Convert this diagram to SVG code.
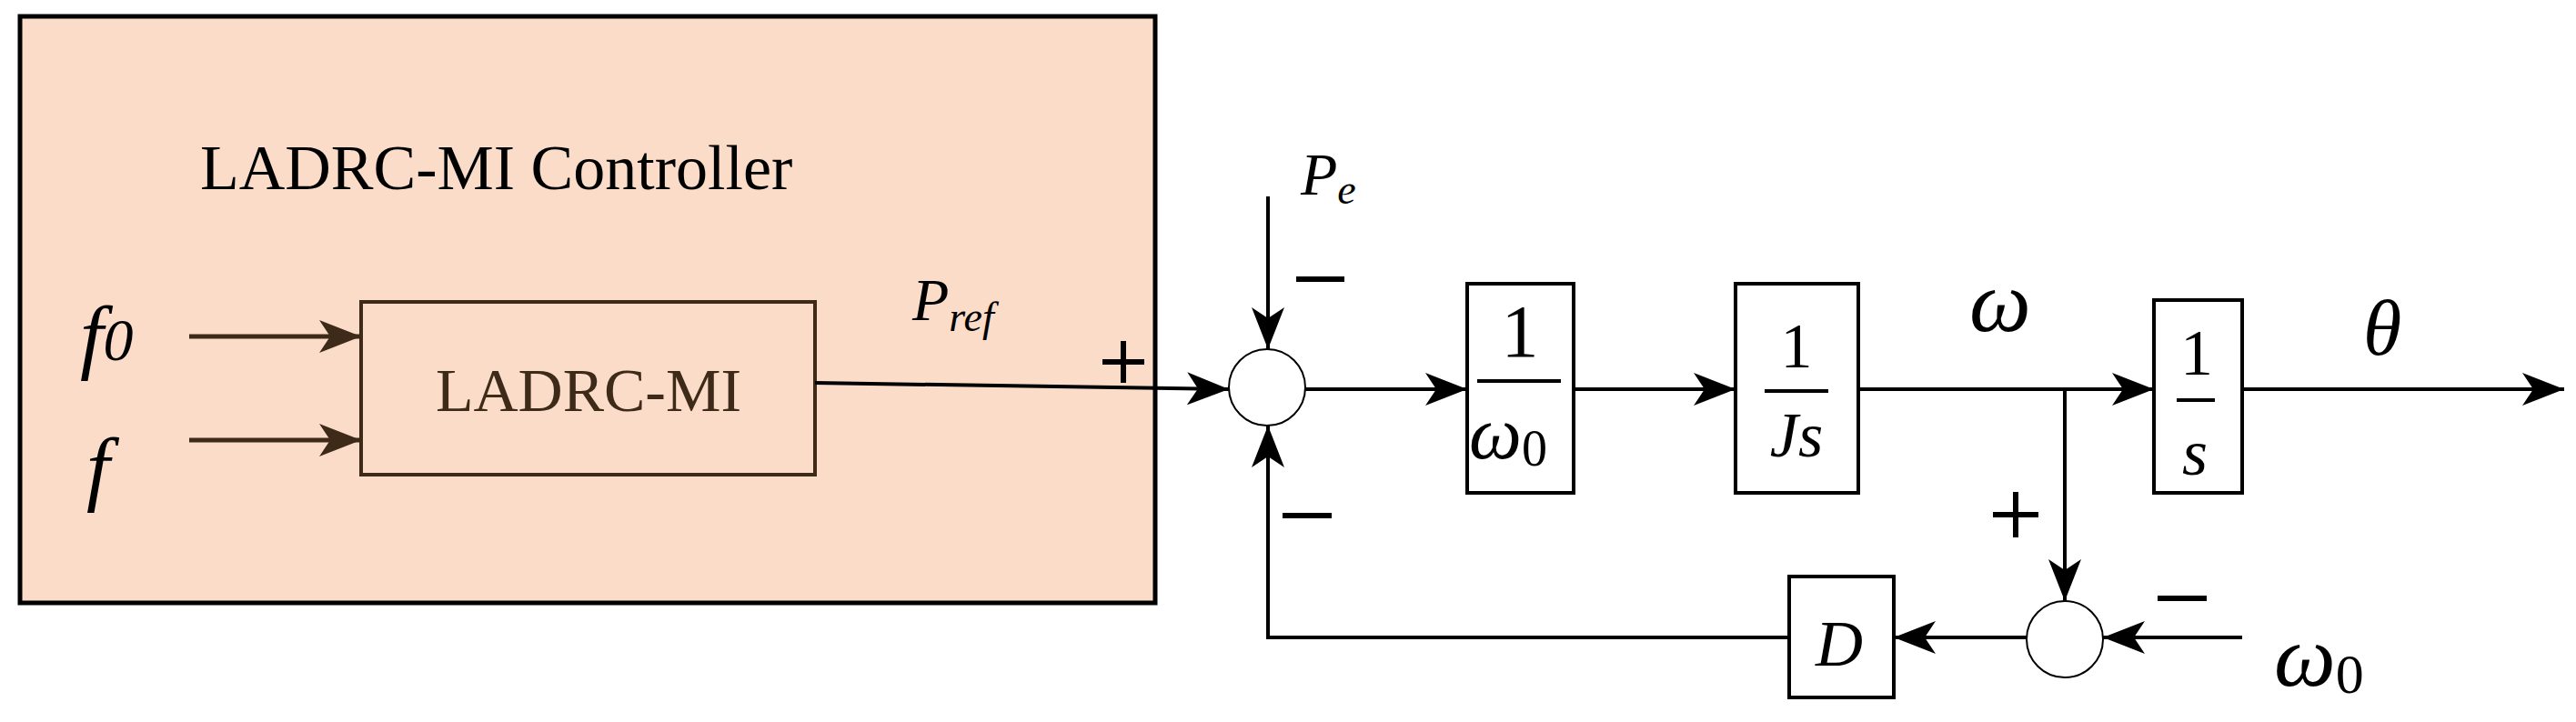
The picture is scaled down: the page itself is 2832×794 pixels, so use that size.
<svg xmlns="http://www.w3.org/2000/svg" width="2832" height="794" viewBox="0 0 2832 794">
<style>
.ln{stroke:#000;stroke-width:4;fill:none}
.br{stroke:#3d2a18;stroke-width:5;fill:none}
.bx{stroke:#000;stroke-width:4;fill:#fff}
.sum{stroke:#000;stroke-width:2;fill:#fff}
.m{font-family:"Liberation Serif",serif;font-style:italic;fill:#000}
.t{font-family:"Liberation Serif",serif;fill:#000}
</style>
<defs>
<marker id="a" viewBox="0 0 46 36" refX="46" refY="18" markerWidth="46" markerHeight="36" markerUnits="userSpaceOnUse" orient="auto"><path d="M0,0 L46,18 L0,36 L12,18 Z" fill="#000"/></marker>
<marker id="ab" viewBox="0 0 46 36" refX="46" refY="18" markerWidth="46" markerHeight="36" markerUnits="userSpaceOnUse" orient="auto"><path d="M0,0 L46,18 L0,36 L12,18 Z" fill="#3d2a18"/></marker>
</defs>
<rect width="2832" height="794" fill="#fff"/>
<g id="controller">
<rect x="22" y="18" width="1248" height="645" fill="#fadcc8" stroke="#000" stroke-width="5"/>
<text class="t" x="220" y="208" font-size="70">LADRC-MI Controller</text>
</g>
<g id="ladrc">
<rect x="397" y="332" width="499" height="190" fill="none" stroke="#3d2a18" stroke-width="4"/>
<text x="647" y="452" font-size="68" text-anchor="middle" font-family="Liberation Serif,serif" fill="#3d2a18">LADRC-MI</text>
</g>
<g id="labels">
<text class="m" x="88" y="400" font-size="92">f<tspan font-size="66" dy="-4">0</tspan></text>
<text class="m" x="95" y="545" font-size="92">f</text>
<text class="m" x="1003" y="352" font-size="66">P<tspan font-size="46" dy="12">ref</tspan></text>
<text class="m" x="1430" y="214" font-size="66">P<tspan font-size="46" dy="10">e</tspan></text>
<text class="m" x="2199" y="364" font-size="96" text-anchor="middle">ω</text>
<text class="m" x="2619" y="390" font-size="86" text-anchor="middle">θ</text>
<text class="m" x="2500" y="754" font-size="96">ω<tspan class="t" font-style="normal" font-size="62" dy="8">0</tspan></text>
</g>
<g id="signs" stroke="#000" stroke-width="6">
<path d="M1212,398 H1258 M1235,375 V421"/>
<path d="M1425,307 H1478"/>
<path d="M1410,567 H1464"/>
<path d="M2191,566 H2241 M2216,541 V591"/>
<path d="M2372,658 H2426"/>
</g>
<g id="sum1"><circle class="sum" cx="1393" cy="426" r="42"/></g>
<g id="sum2"><circle class="sum" cx="2270" cy="703" r="42"/></g>
<g id="b1">
<rect class="bx" x="1613" y="312" width="117" height="230"/>
<line class="ln" x1="1624" y1="419" x2="1716" y2="419"/>
<text class="t" x="1671" y="392" font-size="82" text-anchor="middle">1</text>
<text class="m" x="1658" y="504" font-size="82" text-anchor="middle">ω<tspan class="t" font-style="normal" font-size="56" dy="8">0</tspan></text>
</g>
<g id="b2">
<rect class="bx" x="1908" y="312" width="135" height="230"/>
<line class="ln" x1="1940" y1="430" x2="2010" y2="430"/>
<text class="t" x="1975" y="404" font-size="70" text-anchor="middle">1</text>
<text class="m" x="1975" y="502" font-size="70" text-anchor="middle">Js</text>
</g>
<g id="b3">
<rect class="bx" x="2368" y="330" width="97" height="212"/>
<line class="ln" x1="2393" y1="440" x2="2435" y2="440"/>
<text class="t" x="2415" y="412" font-size="72" text-anchor="middle">1</text>
<text class="m" x="2413" y="522" font-size="72" text-anchor="middle">s</text>
</g>
<g id="bD">
<rect class="bx" x="1967" y="634" width="115" height="133"/>
<text class="m" x="2022" y="732" font-size="72" text-anchor="middle">D</text>
</g>
<g id="connectors">
<line class="br" x1="208" y1="370" x2="397" y2="370" marker-end="url(#ab)"/>
<line class="br" x1="208" y1="484" x2="397" y2="484" marker-end="url(#ab)"/>
<path class="ln" d="M896,421 L1351,428" marker-end="url(#a)"/>
<path class="ln" d="M1394,216 V384" stroke-width="3" marker-end="url(#a)"/>
<path class="ln" d="M1435,428 H1613" marker-end="url(#a)"/>
<path class="ln" d="M1730,428 H1908" marker-end="url(#a)"/>
<path class="ln" d="M2043,428 H2368" marker-end="url(#a)"/>
<path class="ln" d="M2465,428 H2819" marker-end="url(#a)"/>
<path class="ln" d="M2270,428 V661" stroke-width="3" marker-end="url(#a)"/>
<path class="ln" d="M2465,701 H2312" marker-end="url(#a)"/>
<path class="ln" d="M2228,701 H2082" marker-end="url(#a)"/>
<path class="ln" d="M1967,701 H1394 V468" marker-end="url(#a)"/>
</g>
</svg>
